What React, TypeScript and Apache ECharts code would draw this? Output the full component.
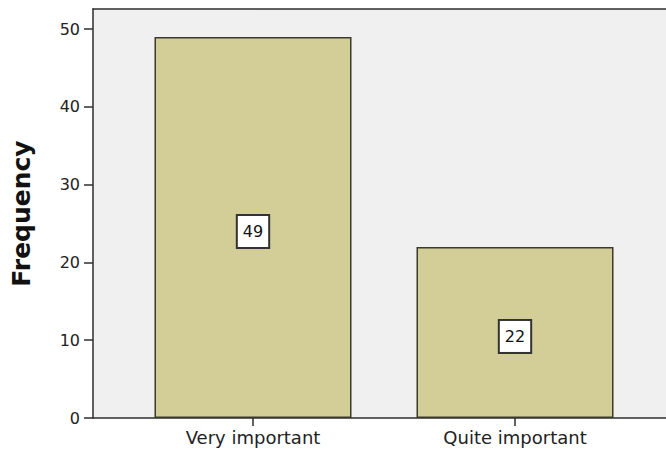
import React, { useEffect, useRef } from "react";
import * as echarts from "echarts";

const categories = ["Very important", "Quite important"];
const frequencies = [49, 22];
const yTickValues = [0, 10, 20, 30, 40, 50];
const yAxisTitle = "Frequency";

const FONT = "DejaVu Sans";
const LINE = { color: "#2e2e2e", width: 1.5 };

export default function App() {
  const ref = useRef<HTMLDivElement>(null);
  useEffect(() => {
    if (!ref.current) return;
    const chart = echarts.init(ref.current, undefined, { renderer: "svg" });
    const yMax = 52.6;
    const frameAxis = (position: string) => ({
      gridIndex: 0,
      type: "value",
      position,
      min: 0,
      max: 1,
      axisLine: { show: true, onZero: false, lineStyle: LINE },
      axisTick: { show: false },
      axisLabel: { show: false },
      splitLine: { show: false },
    });
    chart.setOption({
      animation: false,
      backgroundColor: "#ffffff",
      grid: [
        {
          left: 93,
          top: 9,
          width: 620,
          bottom: 41,
          show: true,
          outerBoundsMode: "none",
          containLabel: false,
          backgroundColor: "#f0f0f0",
          borderWidth: 0,
        },
        {
          left: 122,
          right: 20,
          top: 9,
          bottom: 41,
          outerBoundsMode: "none",
          containLabel: false,
        },
      ],
      xAxis: [
        frameAxis("bottom"),
        frameAxis("top"),
        {
          gridIndex: 1,
          type: "category",
          data: categories,
          axisLine: { show: false },
          axisTick: {
            show: true,
            alignWithLabel: true,
            length: 8,
            lineStyle: LINE,
          },
          axisLabel: {
            margin: 10,
            fontFamily: FONT,
            fontSize: 18,
            color: "#222",
          },
          splitLine: { show: false },
        },
      ],
      yAxis: [
        {
          gridIndex: 0,
          type: "value",
          min: 0,
          max: yMax,
          name: yAxisTitle,
          nameLocation: "middle",
          nameGap: 59,
          nameTextStyle: {
            fontFamily: FONT,
            fontWeight: "bold",
            fontSize: 25,
            color: "#111",
          },
          axisLine: { show: true, lineStyle: LINE },
          axisTick: {
            show: true,
            length: 9,
            customValues: yTickValues,
            lineStyle: LINE,
          },
          axisLabel: {
            customValues: yTickValues,
            margin: 13,
            fontFamily: FONT,
            fontSize: 16,
            color: "#222",
          },
          splitLine: { show: false },
        },
        { gridIndex: 1, type: "value", min: 0, max: yMax, show: false },
      ],
      series: [
        {
          type: "bar",
          xAxisIndex: 2,
          yAxisIndex: 1,
          data: frequencies,
          barWidth: 197,
          itemStyle: {
            color: "#d3ce97",
            borderColor: "#3a3a2c",
            borderWidth: 1.5,
          },
          label: {
            show: true,
            position: "inside",
            offset: [0, 4],
            fontFamily: FONT,
            fontSize: 16,
            lineHeight: 18,
            color: "#111",
            backgroundColor: "#ffffff",
            borderColor: "#333",
            borderWidth: 2,
            padding: [7, 5, 6, 5],
          },
        },
      ],
    });
    return () => chart.dispose();
  }, []);
  return (
    <div
      ref={ref}
      style={{ position: "fixed", left: 0, top: 0, width: 666, height: 459 }}
    />
  );
}
